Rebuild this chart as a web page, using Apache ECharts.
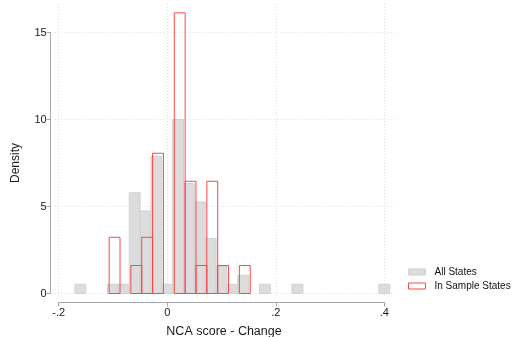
<!DOCTYPE html>
<html>
<head>
<meta charset="utf-8">
<script src="https://cdn.jsdelivr.net/npm/echarts@6/dist/echarts.min.js"></script>
<style>
html,body{margin:0;padding:0;background:#fff;}
#chart{width:512px;height:337px;}
</style>
</head>
<body>
<div id="chart"></div>
<script>
// ---- data ----
const seriesNames = ['All States', 'In Sample States'];
const binWidth = 0.02;
// All States histogram: bin start (NCA score change) and density
const allStatesBinStart = [-0.170, -0.110, -0.090, -0.070, -0.050, -0.030, -0.010, 0.010, 0.030, 0.050, 0.070, 0.090, 0.110, 0.130, 0.170, 0.230, 0.390];
const allStatesDensity  = [0.53, 0.53, 0.53, 5.79, 4.74, 7.89, 0.53, 10.0, 6.32, 5.26, 3.16, 1.58, 0.53, 1.05, 0.53, 0.53, 0.53];
// In Sample States histogram
const sampleBinStart = [-0.107, -0.067, -0.047, -0.027, 0.013, 0.033, 0.053, 0.073, 0.093, 0.133];
const sampleDensity  = [3.23, 1.61, 3.23, 8.06, 16.13, 6.45, 1.61, 6.45, 1.61, 1.61];
// axis ticks
const xTicks = [-0.2, 0, 0.2, 0.4];
const xTickLabels = ['-.2', '0', '.2', '.4'];
const yTicks = [0, 5, 10, 15];
const yTickLabels = ['0', '5', '10', '15'];
const xTitle = 'NCA score - Change';
const yTitle = 'Density';

// ---- layout ----
const W = 512, H = 337;
const axL = 58.7, axR = 384.3, axT = 32.5, axB = 293.5;   // pixel box of axis ranges
const plL = 55, plR = 396, plT = 4, plB = 296;             // plot region (gridlines)
const xMin = xTicks[0], xMax = xTicks[xTicks.length - 1];
const yMin = yTicks[0], yMax = yTicks[yTicks.length - 1];
const px2x = p => xMin + (p - axL) / (axR - axL) * (xMax - xMin);
const px2y = p => yMin + (axB - p) / (axB - axT) * (yMax - yMin);

const font = '"Liberation Sans", Arial, Helvetica, sans-serif';

function toRows(starts, dens) {
  return starts.map((s, i) => [s, s + binWidth, dens[i]]);
}
function makeRender(style) {
  return function (params, api) {
    const p0 = api.coord([api.value(0), api.value(2)]);
    const p1 = api.coord([api.value(1), 0]);
    return {
      type: 'rect',
      shape: { x: p0[0], y: p0[1], width: p1[0] - p0[0], height: p1[1] - p0[1] },
      style: style
    };
  };
}
function lookup(ticks, labels, v) {
  for (let i = 0; i < ticks.length; i++) if (Math.abs(ticks[i] - v) < 1e-6) return labels[i];
  return '';
}

const redColor = '#ff4646';
const grayStyle = { fill: '#dcdcdc', stroke: '#d0d0d0', lineWidth: 1 };
const redStyle = { fill: 'rgba(0,0,0,0)', stroke: redColor, lineWidth: 1 };
const gridLineStyle = { color: '#e0e0e0', width: 1, type: [1, 2] };
const axisColor = '#a8a8a8';

const chart = echarts.init(document.getElementById('chart'), null, { renderer: 'canvas' });
chart.setOption({
  animation: false,
  backgroundColor: '#fff',
  textStyle: { fontFamily: font },
  grid: [
    { left: axL, right: W - axR, top: axT, bottom: H - axB, containLabel: false, outerBoundsMode: 'none' },
    { left: plL, right: W - plR, top: plT, bottom: H - plB, containLabel: false, outerBoundsMode: 'none' }
  ],
  xAxis: [
    {
      type: 'value', gridIndex: 0, min: xMin, max: xMax, interval: 0.2,
      offset: 9,
      axisLine: { show: true, onZero: false, lineStyle: { color: axisColor, width: 1 } },
      axisTick: { show: true, length: 4, inside: false, lineStyle: { color: axisColor } },
      axisLabel: { fontSize: 11, color: '#1a1a1a', margin: 5, fontFamily: font,
        formatter: v => lookup(xTicks, xTickLabels, v) },
      splitLine: { show: false },
      name: xTitle, nameLocation: 'middle', nameGap: 23,
      nameTextStyle: { fontSize: 12.5, color: '#1a1a1a', fontFamily: font, padding: [0, 0, 0, 5] }
    },
    { type: 'value', gridIndex: 1, min: px2x(plL), max: px2x(plR), show: false }
  ],
  yAxis: [
    {
      type: 'value', gridIndex: 0, min: yMin, max: yMax, interval: 5,
      offset: 8,
      axisLine: { show: true, onZero: false, lineStyle: { color: axisColor, width: 1 } },
      axisTick: { show: true, length: 4, inside: false, lineStyle: { color: axisColor } },
      axisLabel: { fontSize: 11, color: '#1a1a1a', margin: 4, fontFamily: font,
        formatter: v => lookup(yTicks, yTickLabels, v) },
      splitLine: { show: false },
      name: yTitle, nameLocation: 'middle', nameGap: 29, nameRotate: 90,
      nameTextStyle: { fontSize: 12, color: '#1a1a1a', fontFamily: font }
    },
    { type: 'value', gridIndex: 1, min: px2y(plB), max: px2y(plT), show: false }
  ],
  legend: {
    orient: 'vertical', left: 408, top: 267, padding: 0,
    itemWidth: 17, itemHeight: 6, itemGap: 4,
    textStyle: { fontSize: 10, color: '#111', fontFamily: font, padding: [0, 0, 0, 4] },
    data: [
      { name: seriesNames[0], icon: 'rect', itemStyle: { color: '#dcdcdc', borderColor: '#d0d0d0', borderWidth: 1 } },
      { name: seriesNames[1], icon: 'rect', itemStyle: { color: '#ffffff', borderColor: redColor, borderWidth: 1 } }
    ]
  },
  series: [
    {
      type: 'line', xAxisIndex: 1, yAxisIndex: 1, data: [], silent: true, z: 0,
      markLine: {
        silent: true, symbol: ['none', 'none'], label: { show: false }, z: 0,
        lineStyle: gridLineStyle,
        data: yTicks.map(v => ({ yAxis: v })).concat(xTicks.map(v => ({ xAxis: v })))
      }
    },
    {
      name: seriesNames[0], type: 'custom', xAxisIndex: 0, yAxisIndex: 0, clip: false, z: 5,
      itemStyle: { color: '#dcdcdc', borderColor: '#d0d0d0' },
      encode: { x: [0, 1], y: 2 },
      renderItem: makeRender(grayStyle),
      data: toRows(allStatesBinStart, allStatesDensity)
    },
    {
      name: seriesNames[1], type: 'custom', xAxisIndex: 0, yAxisIndex: 0, clip: false, z: 6,
      itemStyle: { color: '#ffffff', borderColor: redColor },
      encode: { x: [0, 1], y: 2 },
      renderItem: makeRender(redStyle),
      data: toRows(sampleBinStart, sampleDensity)
    }
  ]
});
</script>
</body>
</html>
